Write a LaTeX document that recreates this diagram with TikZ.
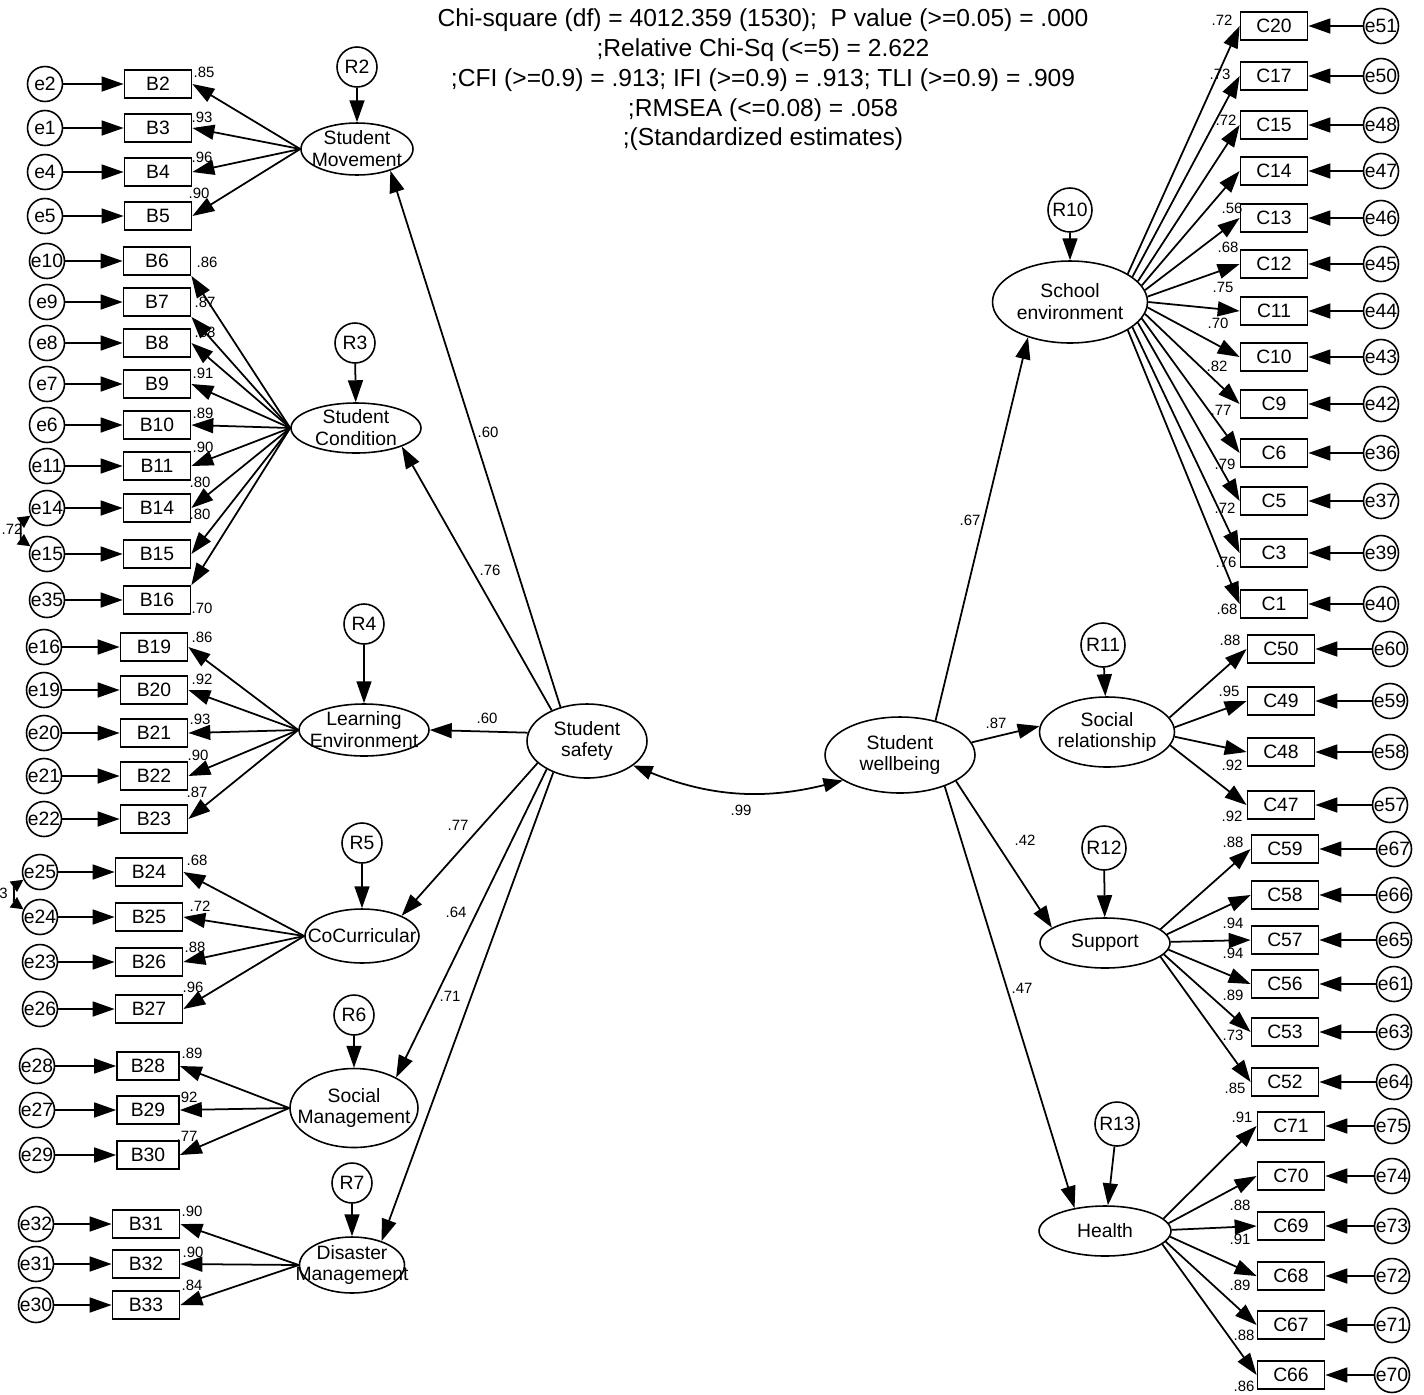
\documentclass[tikz,border=0pt]{standalone}
\usepackage{fontspec}
\setmainfont{Liberation Sans}
\usetikzlibrary{arrows.meta,shapes.geometric}
\tikzset{
  obsbox/.style={draw,line width=1pt,minimum width=1.34cm,minimum height=0.56cm,inner sep=0pt,font=\fontsize{11}{13}\selectfont},
  errc/.style={circle,draw,line width=0.9pt,minimum size=0.7cm,inner sep=0pt,font=\fontsize{11}{13}\selectfont},
  resc/.style={circle,draw,line width=0.9pt,minimum size=0.8cm,inner sep=0pt,font=\fontsize{11}{13}\selectfont},
  lattext/.style={align=center,inner sep=0pt,font=\fontsize{11}{12.5}\selectfont},
  latent/.style={ellipse,draw,line width=0.9pt,inner sep=0pt,label={[lattext]center:{#1}}},
  pth/.style={line width=1pt,-{Triangle[length=12.5pt,width=8.5pt]}},
  dbl/.style={line width=1pt,{Triangle[length=11pt,width=8pt]}-{Triangle[length=11pt,width=8pt]}},
  smalldbl/.style={line width=1pt,{Triangle[length=7pt,width=7pt]}-{Triangle[length=7pt,width=7pt]}},
  coef/.style={inner sep=0pt,font=\fontsize{8.5}{9}\selectfont},
  fitnote/.style={align=center,inner sep=0pt,font=\fontsize{14}{16.9}\selectfont}
}
\begin{document}
\begin{tikzpicture}[x=0.02cm,y=-0.02cm]
\useasboundingbox (0,0) rectangle (1424,1394);

\node[fitnote] (fit) at (763,80) {Chi-square (df) = 4012.359 (1530);~ P value (>=0.05) = .000\\
;Relative Chi-Sq (<=5) = 2.622\\
;CFI (>=0.9) = .913; IFI (>=0.9) = .913; TLI (>=0.9) = .909\\
;RMSEA (<=0.08) = .058\\
;(Standardized estimates)};

% second order
\node[latent={Student\\safety},minimum width=2.4cm,minimum height=1.48cm] (ss) at (587,741) {};
\node[latent={Student\\wellbeing},minimum width=3cm,minimum height=1.52cm] (sw) at (900,755) {};
\draw[dbl] (ss.-28) to[bend right=18] (sw.-156);
\node[coef] (l99) at (741,810) {.99};

% first order, left
\node[latent={Student\\Movement},minimum width=2.24cm,minimum height=1.04cm] (sm) at (357,149) {};
\node[latent={Student\\Condition},minimum width=2.6cm,minimum height=1cm] (sc) at (356,428) {};
\node[latent={Learning\\Environment},minimum width=2.6cm,minimum height=1.04cm] (le) at (364,730) {};
\node[latent={CoCurricular},minimum width=2.28cm,minimum height=1.08cm] (cc) at (362,936) {};
\node[latent={Social\\Management},minimum width=2.56cm,minimum height=1.58cm] (smg) at (354,1108) {};
\node[latent={Disaster\\Management},minimum width=2.1cm,minimum height=1.12cm] (dm) at (352,1265) {};

% first order, right
\node[latent={School\\environment},minimum width=3.1cm,minimum height=1.64cm] (se) at (1070,302) {};
\node[latent={Social\\relationship},minimum width=2.7cm,minimum height=1.4cm] (sr) at (1107,732) {};
\node[latent={Support},minimum width=2.6cm,minimum height=1cm] (sup) at (1105,943) {};
\node[latent={Health},minimum width=2.64cm,minimum height=1cm] (hl) at (1105,1231) {};

% residuals
\foreach \ri/\lat/\x/\y in {2/sm/357/67,3/sc/355/343,4/le/364/624,5/cc/362/843,6/smg/354/1015,7/dm/352/1183}{
  \node[resc] (r\ri) at (\x,\y) {R\ri};
  \draw[pth] (r\ri) -- (\lat);
}
\foreach \ri/\lat/\x/\y in {10/se/1070/210,11/sr/1103/645,12/sup/1104/848,13/hl/1117/1124}{
  \node[resc,minimum size=0.88cm] (r\ri) at (\x,\y) {R\ri};
  \draw[pth] (r\ri) -- (\lat);
}

% structural paths
\draw[pth] (ss.128) -- (sm.-33);
\node[coef] (l60a) at (488,432) {.60};
\draw[pth] (ss.139) -- (sc.-22);
\node[coef] (l76) at (490,570) {.76};
\draw[pth] (ss.172) -- (le.east);
\node[coef] (l60b) at (487,718) {.60};
\draw[pth] (ss.204) -- (cc.27);
\node[coef] (l77) at (458,825) {.77};
\draw[pth] (ss.215) -- (smg.36);
\node[coef] (l64) at (456,912) {.64};
\draw[pth] (ss.223) -- (dm.39);
\node[coef] (l71) at (450,996) {.71};
\draw[pth] (sw.44) -- (se.220);
\node[coef] (l67) at (970,520) {.67};
\draw[pth] (sw.10) -- (sr.175);
\node[coef] (l87) at (996,723) {.87};
\draw[pth] (sw.-25) -- (sup.164);
\node[coef] (l42) at (1025,840) {.42};
\draw[pth] (sw.-35) -- (hl.143);
\node[coef] (l47) at (1022,988) {.47};

% Student Movement
\foreach \bi/\ei/\y/\lx/\ly/\v in {2/2/84/204/72/85,3/1/128/202/117/93,4/4/172/202/157/96,5/5/216/199/193/90}{
  \node[obsbox] (b\bi) at (158,\y) {B\bi};
  \node[errc] (e\ei) at (45,\y) {e\ei};
  \draw[pth] (e\ei) -- (b\bi);
  \draw[pth] (sm.west) -- (b\bi.east);
  \node[coef] (lb\bi) at (\lx,\ly) {.\v};
}
% Student Condition
\foreach \bi/\ei/\y/\lx/\ly/\v/\an in {6/10/261/207/262/86/south east,7/9/302/205/302/87/south east,8/8/343/205/332/88/east,9/7/384/203/373/91/east,10/6/425/203/413/89/east,11/11/466/203/447/90/east,14/14/508/200/482/80/east,15/15/554/200/514/80/east,16/35/600/202/608/70/north east}{
  \node[obsbox] (b\bi) at (157,\y) {B\bi};
  \node[errc] (e\ei) at (47,\y) {e\ei};
  \draw[pth] (e\ei) -- (b\bi);
  \draw[pth] (sc.west) -- (b\bi.\an);
  \node[coef] (lb\bi) at (\lx,\ly) {.\v};
}
\node[coef] (lc72) at (12,529) {.72};
\draw[smalldbl] (e14.205) to[bend right=55] (e15.155);
% Learning Environment
\foreach \bi/\ei/\y/\lx/\ly/\v in {19/16/647/202/637/86,20/19/690/202/679/92,21/20/733/200/719/93,22/21/776/198/755/90,23/22/819/197/792/87}{
  \node[obsbox] (b\bi) at (154,\y) {B\bi};
  \node[errc] (e\ei) at (44,\y) {e\ei};
  \draw[pth] (e\ei) -- (b\bi);
  \draw[pth] (le.west) -- (b\bi.east);
  \node[coef] (lb\bi) at (\lx,\ly) {.\v};
}
% CoCurricular
\foreach \bi/\ei/\y/\lx/\ly/\v in {24/25/872/197/860/68,25/24/917/200/906/72,26/23/962/195/947/88,27/26/1009/193/987/96}{
  \node[obsbox] (b\bi) at (149,\y) {B\bi};
  \node[errc] (e\ei) at (40,\y) {e\ei};
  \draw[pth] (e\ei) -- (b\bi);
  \draw[pth] (cc.west) -- (b\bi.east);
  \node[coef] (lb\bi) at (\lx,\ly) {.\v};
}
\node[coef,anchor=east] (lc83) at (8,893) {3};
\draw[smalldbl] (e25.205) to[bend right=55] (e24.155);
% Social Management
\foreach \bi/\ei/\y/\lx/\ly/\v in {28/28/1066/192/1053/89,29/27/1110/187/1097/92,30/29/1155/187/1136/77}{
  \node[obsbox,minimum width=1.24cm] (b\bi) at (148,\y) {B\bi};
  \node[errc] (e\ei) at (37,\y) {e\ei};
  \draw[pth] (e\ei) -- (b\bi);
  \draw[pth] (smg.west) -- (b\bi.east);
  \node[coef] (lb\bi) at (\lx,\ly) {.\v};
}
% Disaster Management
\foreach \bi/\ei/\y/\lx/\ly/\v in {31/32/1224/192/1211/90,32/31/1264/193/1252/90,33/30/1305/192/1285/84}{
  \node[obsbox] (b\bi) at (146,\y) {B\bi};
  \node[errc] (e\ei) at (36,\y) {e\ei};
  \draw[pth] (e\ei) -- (b\bi);
  \draw[pth] (dm.west) -- (b\bi.east);
  \node[coef] (lb\bi) at (\lx,\ly) {.\v};
}

% School environment
\foreach \ci/\ei/\y/\lx/\ly/\v/\a in {20/51/26/1222/20/72/26,17/50/76/1220/74/73/22,15/48/125/1226/120/72/17,14/47/171/1232/208/56/13,13/46/218/1228/247/68/9,12/45/264/1223/287/75/4,11/44/311/1218/323/70/0,10/43/357/1217/366/82/-4,9/42/404/1221/410/77/-9,6/36/453/1225/464/79/-13,5/37/501/1225/508/72/-17,3/39/553/1226/562/76/-22,1/40/604/1227/609/68/-26}{
  \node[obsbox] (c\ci) at (1274,\y) {C\ci};
  \node[errc] (e\ei) at (1381,\y) {e\ei};
  \draw[pth] (e\ei) -- (c\ci);
  \draw[pth] (se.\a) -- (c\ci.west);
  \node[coef] (lc\ci) at (\lx,\ly) {.\v};
}
% Social relationship
\foreach \ci/\ei/\y/\lx/\ly/\v/\a in {50/60/649/1230/640/88/13,49/59/701/1229/691/95/4,48/58/752/1232/765/92/-4,47/57/805/1232/816/92/-12}{
  \node[obsbox] (c\ci) at (1281,\y) {C\ci};
  \node[errc] (e\ei) at (1390,\y) {e\ei};
  \draw[pth] (e\ei) -- (c\ci);
  \draw[pth] (sr.\a) -- (c\ci.west);
  \node[coef] (lc\ci) at (\lx,\ly) {.\v};
}
% Support
\foreach \ci/\ei/\y/\lx/\ly/\v/\a in {59/67/849/1233/842/88/14,58/66/895/1233/923/94/8,57/65/940/1233/953/94/1,56/61/984/1233/995/89/-6,53/63/1032/1233/1035/73/-11,52/64/1082/1235/1088/85/-14}{
  \node[obsbox] (c\ci) at (1285,\y) {C\ci};
  \node[errc] (e\ei) at (1394,\y) {e\ei};
  \draw[pth] (e\ei) -- (c\ci);
  \draw[pth] (sup.\a) -- (c\ci.west);
  \node[coef] (lc\ci) at (\lx,\ly) {.\v};
}
% Health
\foreach \ci/\ei/\y/\lx/\ly/\v/\a in {71/75/1126/1242/1117/91/12,70/74/1176/1240/1205/88/7,69/73/1226/1240/1239/91/1,68/72/1276/1240/1285/89/-5,67/71/1325/1244/1335/88/-10,66/70/1375/1244/1386/86/-13}{
  \node[obsbox] (c\ci) at (1291,\y) {C\ci};
  \node[errc] (e\ei) at (1392,\y) {e\ei};
  \draw[pth] (e\ei) -- (c\ci);
  \draw[pth] (hl.\a) -- (c\ci.west);
  \node[coef] (lc\ci) at (\lx,\ly) {.\v};
}
\end{tikzpicture}
\end{document}
